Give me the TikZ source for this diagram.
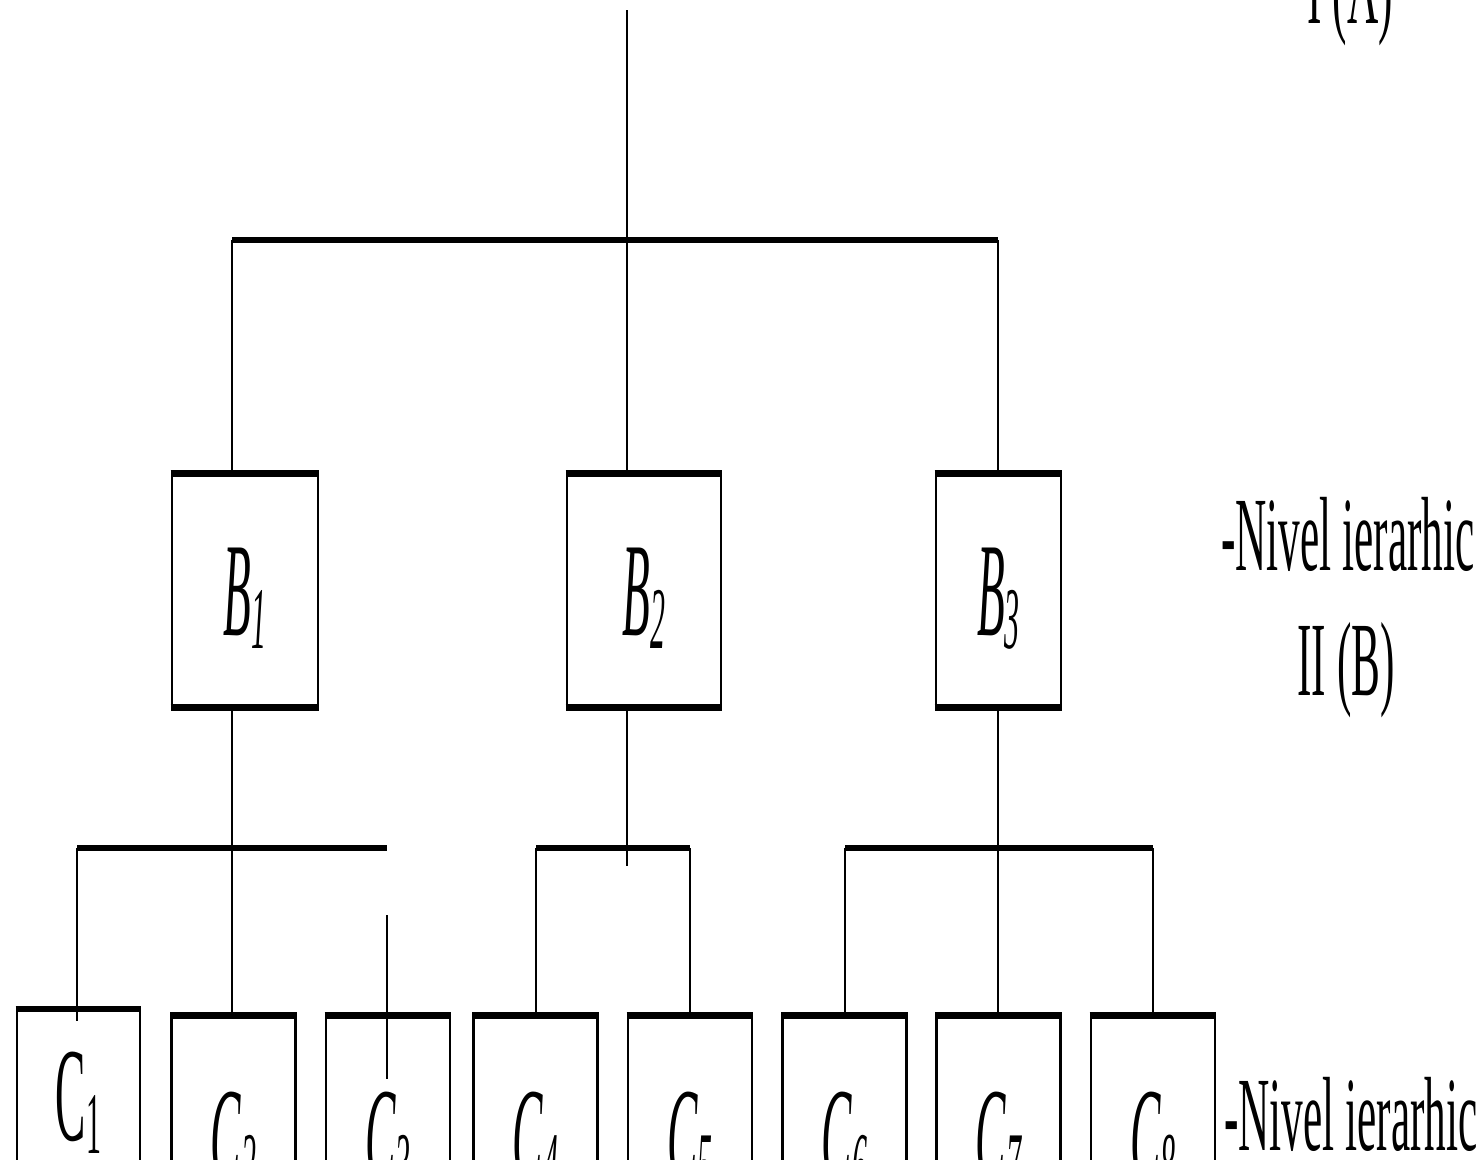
\documentclass[tikz,border=0pt]{standalone}
\usepackage{fontspec}
\setmainfont{Liberation Serif}
\usetikzlibrary{positioning}

\newcommand{\narrow}[2][0.41]{\scalebox{#1}[1]{#2}}
\newcommand{\idx}[1]{\raisebox{-0.13cm}{\fontsize{25}{25}\selectfont #1}}

\begin{document}
\begin{tikzpicture}[x=0.01cm, y=-0.01cm,
  link/.style={line width=0.75pt},
  bar/.style={line width=1.8pt},
  box/.style={draw, line width=0.75pt, inner sep=0pt, text height=1.09cm, text depth=0.2cm,
    font=\fontsize{38}{40}\selectfont},
  level/.style={inner sep=0pt, anchor=base, font=\fontsize{30}{27}\selectfont}]

\useasboundingbox (0,0) rectangle (1483,1159);
\clip (0,0) rectangle (1483,1159);

% level B
\node [box, minimum width=1.46cm, minimum height=2.31cm] (b1) at (245,590.5) {\narrow[0.34]{\itshape B\idx{1}}};
\node [box, minimum width=1.54cm, minimum height=2.31cm] (b2) at (644,590.5) {\narrow[0.34]{\itshape B\idx{2}}};
\node [box, minimum width=1.25cm, minimum height=2.31cm] (b3) at (998.5,590.5) {\narrow[0.34]{\itshape B\idx{3}}};

% level C
\node [box, minimum width=1.23cm, minimum height=1.71cm] (c1) at (78.5,1095.5) {\narrow[0.34]{C\idx{1}}};
\foreach \n/\x in {2/233.5,3/388,4/535.5,5/690,6/844.5,7/998.5,8/1153}
  \node [box, minimum width=1.24cm, minimum height=2.37cm] (c\n) at (\x,1135.5) {\narrow[0.34]{\itshape C\idx{\n}}};

% thick edges
\foreach \b in {b1,b2,b3}
  \draw [bar] (\b.north west) -- (\b.north east) (\b.south west) -- (\b.south east);
\foreach \c in {1,...,8}
  \draw [bar] (c\c.north west) -- (c\c.north east);

% level A to B
\coordinate (top) at (627,10);
\coordinate (barA-l) at (232,240);
\coordinate (barA-r) at (998,240);
\draw [bar] (barA-l) -- (barA-r);
\draw [link] (top) -- (top |- b2.north);
\draw [link] (barA-l) -- (barA-l |- b1.north);
\draw [link] (barA-r) -- (barA-r |- b3.north);

% B to C
\coordinate (barB1-l) at (77,848);
\coordinate (barB1-r) at (387,848);
\coordinate (barB2-l) at (536,848);
\coordinate (barB2-r) at (690,848);
\coordinate (barB3-l) at (845,848);
\coordinate (barB3-r) at (1153,848);
\draw [bar] (barB1-l) -- (barB1-r);
\draw [bar] (barB2-l) -- (barB2-r);
\draw [bar] (barB3-l) -- (barB3-r);
\draw [link] (b1.south -| barA-l) -- (barA-l |- barB1-l);
\draw [link] (b2.south -| top) -- ++(0,159);
\draw [link] (b3.south -| barA-r) -- (barA-r |- barB3-l);

\draw [link] (barB1-l) -- ([yshift=-0.12cm]c1.north -| barB1-l);
\draw [link] (barA-l |- barB1-l) -- (barA-l |- c2.north);
\draw [link] ([yshift=-0.67cm]barB1-r) -- ([yshift=-0.63cm]c3.north -| barB1-r);
\draw [link] (barB2-l) -- (barB2-l |- c4.north);
\draw [link] (barB2-r) -- (barB2-r |- c5.north);
\draw [link] (barB3-l) -- (barB3-l |- c6.north);
\draw [link] (barA-r |- barB3-l) -- (barA-r |- c7.north);
\draw [link] (barB3-r) -- (barB3-r |- c8.north);

% level labels
\node [level] (lvlA) at (1350,23) {\narrow{I (A)}};
\node [level] (lvlB) at (1348,570) {\narrow{-Nivel ierarhic}};
\node [level] (lvlB2) at (1346,695) {\narrow{II (B)}};
\node [level] (lvlC) at (1351,1150) {\narrow{-Nivel ierarhic}};
\end{tikzpicture}
\end{document}
